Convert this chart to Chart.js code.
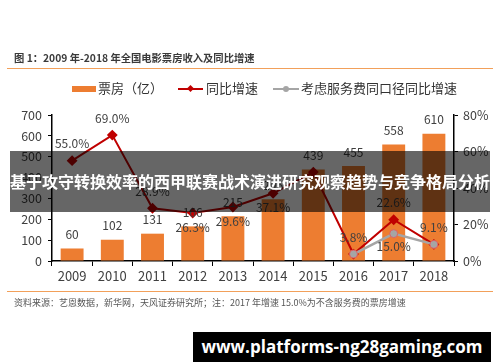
<!DOCTYPE html>
<html>
<head>
<meta charset="utf-8">
<script src="https://cdn.jsdelivr.net/npm/chart.js@4.4.0/dist/chart.umd.min.js"></script>
<style>
  body { margin: 0; background: #fff; }
  #wrap { position: relative; width: 500px; height: 362px; overflow: hidden; font-family: "Noto Sans CJK SC", sans-serif; }
  #myChart { position: absolute; left: 0; top: 0; }
  .title { position: absolute; left: 14px; top: 50px; font-size: 10.3px; font-weight: bold; color: #3a3a3a; }
  .rule { position: absolute; left: 7px; width: 486px; height: 1px; background: #f2a05a; }
  .legend { position: absolute; top: 79px; font-size: 13px; color: #333; height: 18px; line-height: 18px; }
  .foot { position: absolute; left: 14px; top: 296px; font-size: 9px; color: #555; }
  .banner { position: absolute; left: 10px; top: 151px; width: 480px; height: 61px; background: rgba(0,0,0,0.6);
            color: #fff; font-size: 16px; font-weight: bold; text-align: center; line-height: 61px; }
  .mark { position: absolute; left: 193px; top: 332px; width: 298px; height: 30px; background: #000;
          color: #fff; font-family: "Open Sans", sans-serif; font-size: 17px; font-weight: bold; text-align: center; line-height: 30px; }
</style>
</head>
<body>
<div id="wrap">
  <canvas id="myChart" width="500" height="362"></canvas>
  <div class="title">图 1：2009 年-2018 年全国电影票房收入及同比增速</div>
  <div class="rule" style="top:68px"></div>
  <div class="legend" style="left:72px"><span style="display:inline-block;width:24px;height:6px;background:#ED7D31;vertical-align:middle;margin-right:2px"></span>票房（亿）</div>
  <div class="legend" style="left:178px"><span style="display:inline-block;position:relative;width:25px;height:2px;background:#C00000;vertical-align:middle;margin-right:3px"><span style="position:absolute;left:10px;top:-2px;width:5px;height:5px;background:#C00000;transform:rotate(45deg)"></span></span>同比增速</div>
  <div class="legend" style="left:273px"><span style="display:inline-block;position:relative;width:26px;height:2px;background:#A5A5A5;vertical-align:middle;margin-right:2px"><span style="position:absolute;left:10px;top:-2px;width:6px;height:6px;border-radius:3px;background:#A5A5A5"></span></span>考虑服务费同口径同比增速</div>
  <div class="rule" style="top:291px"></div>
  <div class="foot">资料来源：艺恩数据，新华网，天风证券研究所；注：2017 年增速 15.0%为不含服务费的票房增速</div>
  <div class="banner">基于攻守转换效率的西甲联赛战术演进研究观察趋势与竞争格局分析</div>
  <div class="mark">www.platforms-ng28gaming.com</div>
</div>
<script>
// data
const years = ['2009', '2010', '2011', '2012', '2013', '2014', '2015', '2016', '2017', '2018'];
const boxOffice = [60, 102, 131, 166, 215, 296, 439, 455, 558, 610];
const growth = [55.0, 69.0, 28.9, 26.3, 29.6, 37.1, 48.7, 3.8, 22.6, 9.1];
const growthSvc = [null, null, null, null, null, null, null, 3.8, 15.0, 9.1];

// where each growth label sits relative to its point
const growthPos = ['up', 'up', 'up', 'down', 'down', 'down', 'none', 'up', 'up', 'up'];
const svcPos = ['none', 'none', 'none', 'none', 'none', 'none', 'none', 'none', 'down', 'none'];

const txt = '#404040';
const font = '"Noto Sans CJK SC", sans-serif';

const labelPlugin = {
    id: 'labels',
    afterDatasetsDraw(chart) {
        const c = chart.ctx;
        c.save();
        c.fillStyle = txt;
        c.textAlign = 'center';
        c.textBaseline = 'middle';
        c.font = '12px ' + font;
        chart.getDatasetMeta(2).data.forEach((el, i) => {
            c.fillText(boxOffice[i], el.x, el.y - 14);
        });
        chart.getDatasetMeta(0).data.forEach((el, i) => {
            if (growthPos[i] == 'up') c.fillText(growth[i].toFixed(1) + '%', el.x, el.y - 17);
            if (growthPos[i] == 'down') c.fillText(growth[i].toFixed(1) + '%', el.x, el.y + 14);
        });
        chart.getDatasetMeta(1).data.forEach((el, i) => {
            if (svcPos[i] == 'down') c.fillText(growthSvc[i].toFixed(1) + '%', el.x, el.y + 13);
        });
        c.restore();
    }
};

const ctx = document.getElementById('myChart');

new Chart(ctx, {
    type: 'bar',
    data: {
        labels: years,
        datasets: [{
            type: 'line',
            label: '同比增速',
            data: growth,
            yAxisID: 'y1',
            borderColor: '#C00000',
            backgroundColor: '#C00000',
            borderWidth: 2,
            pointStyle: 'rectRot',
            pointRadius: 4,
            order: 1
        }, {
            type: 'line',
            label: '考虑服务费同口径同比增速',
            data: growthSvc,
            yAxisID: 'y1',
            borderColor: '#A5A5A5',
            backgroundColor: '#A5A5A5',
            pointBorderColor: '#E06060',
            pointBorderWidth: 1,
            borderWidth: 2.5,
            pointRadius: 4,
            order: 0
        }, {
            label: '票房（亿）',
            data: boxOffice,
            yAxisID: 'y',
            backgroundColor: '#ED7D31',
            categoryPercentage: 1,
            barPercentage: 0.57,
            order: 2
        }]
    },
    options: {
        responsive: false,
        animation: false,
        layout: { padding: { top: 115, bottom: 71, left: 0, right: 0 } },
        plugins: { legend: { display: false }, tooltip: { enabled: false } },
        scales: {
            x: {
                grid: { display: true, drawOnChartArea: false, color: '#000', tickLength: 5 },
                border: { color: '#000', width: 1.5 },
                ticks: { color: txt, font: { size: 13, family: font }, padding: 2 },
                afterFit(s) { s.height = 30; }
            },
            y: {
                position: 'left',
                min: 0, max: 700,
                grid: { display: true, drawOnChartArea: false, color: '#000', tickLength: 4 },
                border: { color: '#000', width: 1.5 },
                ticks: { stepSize: 100, color: txt, font: { size: 12.5, family: font }, padding: 6 },
                afterFit(s) { s.width = 52; }
            },
            y1: {
                position: 'right',
                min: 0, max: 80,
                grid: { display: true, drawOnChartArea: false, color: '#000', tickLength: 4 },
                border: { color: '#000', width: 1.5 },
                ticks: { stepSize: 20, color: txt, font: { size: 12.5, family: font }, padding: 5,
                    callback: v => v + '%' },
                afterFit(s) { s.width = 46; }
            }
        }
    },
    plugins: [labelPlugin]
});
</script>
</body>
</html>
